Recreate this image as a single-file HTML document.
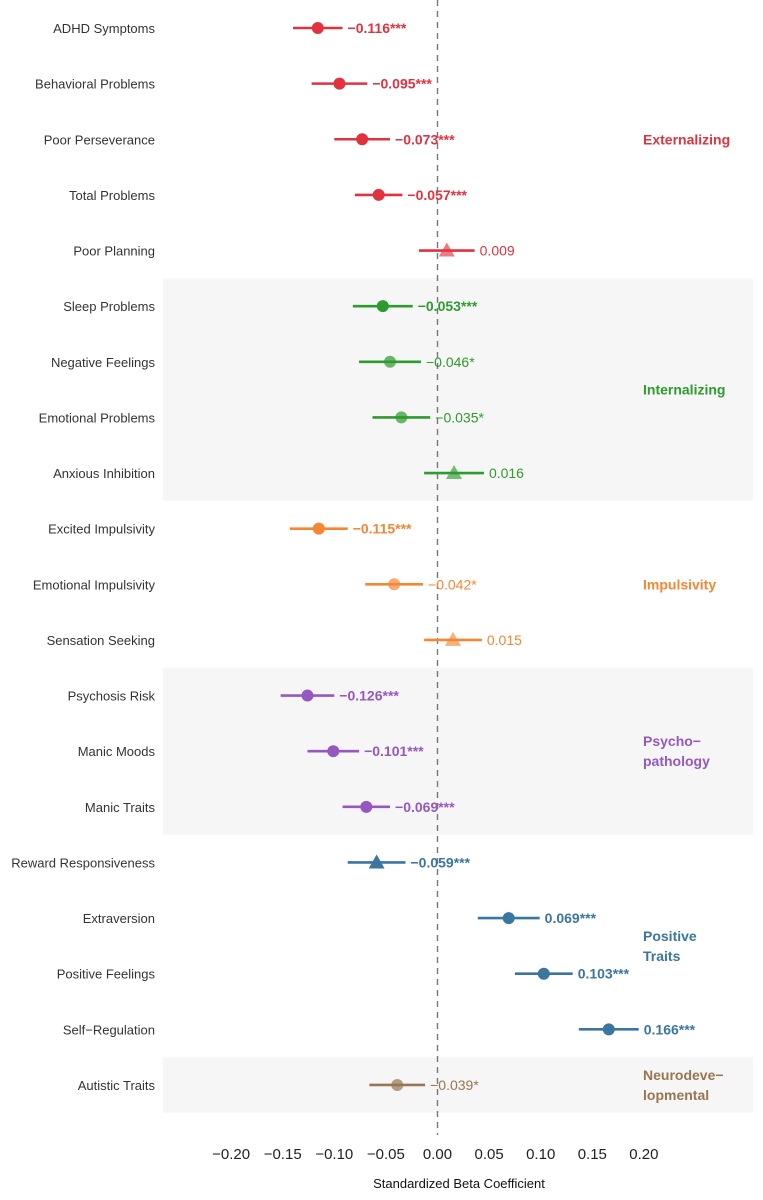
<!DOCTYPE html>
<html><head><meta charset="utf-8"><style>
html,body{margin:0;padding:0;background:#fff}
svg{display:block;font-family:"Liberation Sans",Arial,sans-serif}
</style></head><body>
<svg id="chart" width="763" height="1200" viewBox="0 0 763 1200"></svg>
<script>
const labels=["ADHD Symptoms","Behavioral Problems","Poor Perseverance","Total Problems","Poor Planning","Sleep Problems","Negative Feelings","Emotional Problems","Anxious Inhibition","Excited Impulsivity","Emotional Impulsivity","Sensation Seeking","Psychosis Risk","Manic Moods","Manic Traits","Reward Responsiveness","Extraversion","Positive Feelings","Self\u2212Regulation","Autistic Traits"];
const betas=[-0.116,-0.095,-0.073,-0.057,0.009,-0.053,-0.046,-0.035,0.016,-0.115,-0.042,0.015,-0.126,-0.101,-0.069,-0.059,0.069,0.103,0.166,-0.039];
const ciHalf=[0.024,0.027,0.027,0.023,0.027,0.029,0.030,0.028,0.029,0.028,0.028,0.028,0.026,0.025,0.023,0.028,0.030,0.028,0.029,0.027];
const sig=["***","***","***","***","","***","*","*","","***","*","","***","***","***","***","***","***","***","*"];
const groupIdx=[0,0,0,0,0,1,1,1,1,2,2,2,3,3,3,4,4,4,4,5];
const triangle=[0,0,0,0,1,0,0,0,1,0,0,1,0,0,0,1,0,0,0,0];
const groupNames=[["Externalizing"],["Internalizing"],["Impulsivity"],["Psycho\u2212","pathology"],["Positive","Traits"],["Neurodeve\u2212","lopmental"]];
const groupColors=["#e2323f","#2e9b2e","#f58634","#9558c0","#3a76a0","#977650"];
const xTicks=[-0.20,-0.15,-0.10,-0.05,0.00,0.05,0.10,0.15,0.20];

const svg=document.getElementById('chart');
const NS="http://www.w3.org/2000/svg";
const X=v=>437.5+v*1032;
const Y=i=>28+i*55.63;
function mk(tag,attrs,parent){const e=document.createElementNS(NS,tag);for(const k in attrs)e.setAttribute(k,attrs[k]);(parent||svg).appendChild(e);return e;}
function fmt(v){return (v<0?"\u2212":"")+Math.abs(v).toFixed(3);}

// bands for groups 1,3,5
[1,3,5].forEach(g=>{
  const idx=groupIdx.map((x,i)=>x===g?i:-1).filter(i=>i>=0);
  const y0=Y(idx[0])-27.8, y1=Y(idx[idx.length-1])+27.8;
  const r=mk('rect',{x:163,y:y0,width:590,height:y1-y0,fill:'#f6f6f6'});
  
  
});
// zero line
const zl=mk('line',{x1:X(0),x2:X(0),y1:0,y2:1135,stroke:'#777','stroke-width':1.4,'stroke-dasharray':'6,5'});



labels.forEach((lab,i)=>{
  const y=Y(i), c=groupColors[groupIdx[i]];
  const op=sig[i]==="***"?1:0.7;
  const t=mk('text',{x:155,y:y+5,'text-anchor':'end','font-size':13,fill:'#333'});
  t.textContent=lab;
  
  
  const g=mk('g',{});
  
  
  mk('line',{x1:X(betas[i]-ciHalf[i]),x2:X(betas[i]+ciHalf[i]),y1:y,y2:y,stroke:c,'stroke-width':2.6},g);
  const px=X(betas[i]);
  if(triangle[i]){
    const o=sig[i]?1:0.65;
    mk('polygon',{points:`${px-8},${y+6} ${px+8},${y+6} ${px},${y-8}`,fill:c,'fill-opacity':o},g);
  } else {
    mk('circle',{cx:px,cy:y,r:6,fill:c,'fill-opacity':op},g);
  }
  const vt=mk('text',{x:X(betas[i]+ciHalf[i])+5,y:y+5,'font-size':14,fill:c,'font-weight':sig[i]==="***"?'bold':'normal'},g);
  vt.textContent=fmt(betas[i])+sig[i];
});

groupNames.forEach((lines,g)=>{
  const idx=groupIdx.map((x,i)=>x===g?i:-1).filter(i=>i>=0);
  const mid=(Y(idx[0])+Y(idx[idx.length-1]))/2;
  const t=mk('text',{x:643,y:mid+5-(lines.length-1)*10,'font-size':14,'font-weight':'bold',fill:groupColors[g]});
  
  
  lines.forEach((l,k)=>{const s=mk('tspan',{x:643,dy:k?20:0},t);s.textContent=l;});
});

xTicks.forEach(v=>{
  const t=mk('text',{x:X(v),y:1159,'text-anchor':'middle','font-size':15,fill:'#222'});
  t.textContent=(v<0?"\u2212":"")+Math.abs(v).toFixed(2);
  
  
});
const at=mk('text',{x:459,y:1188,'text-anchor':'middle','font-size':13,fill:'#111'});
at.textContent="Standardized Beta Coefficient";


</script>
</body></html>
